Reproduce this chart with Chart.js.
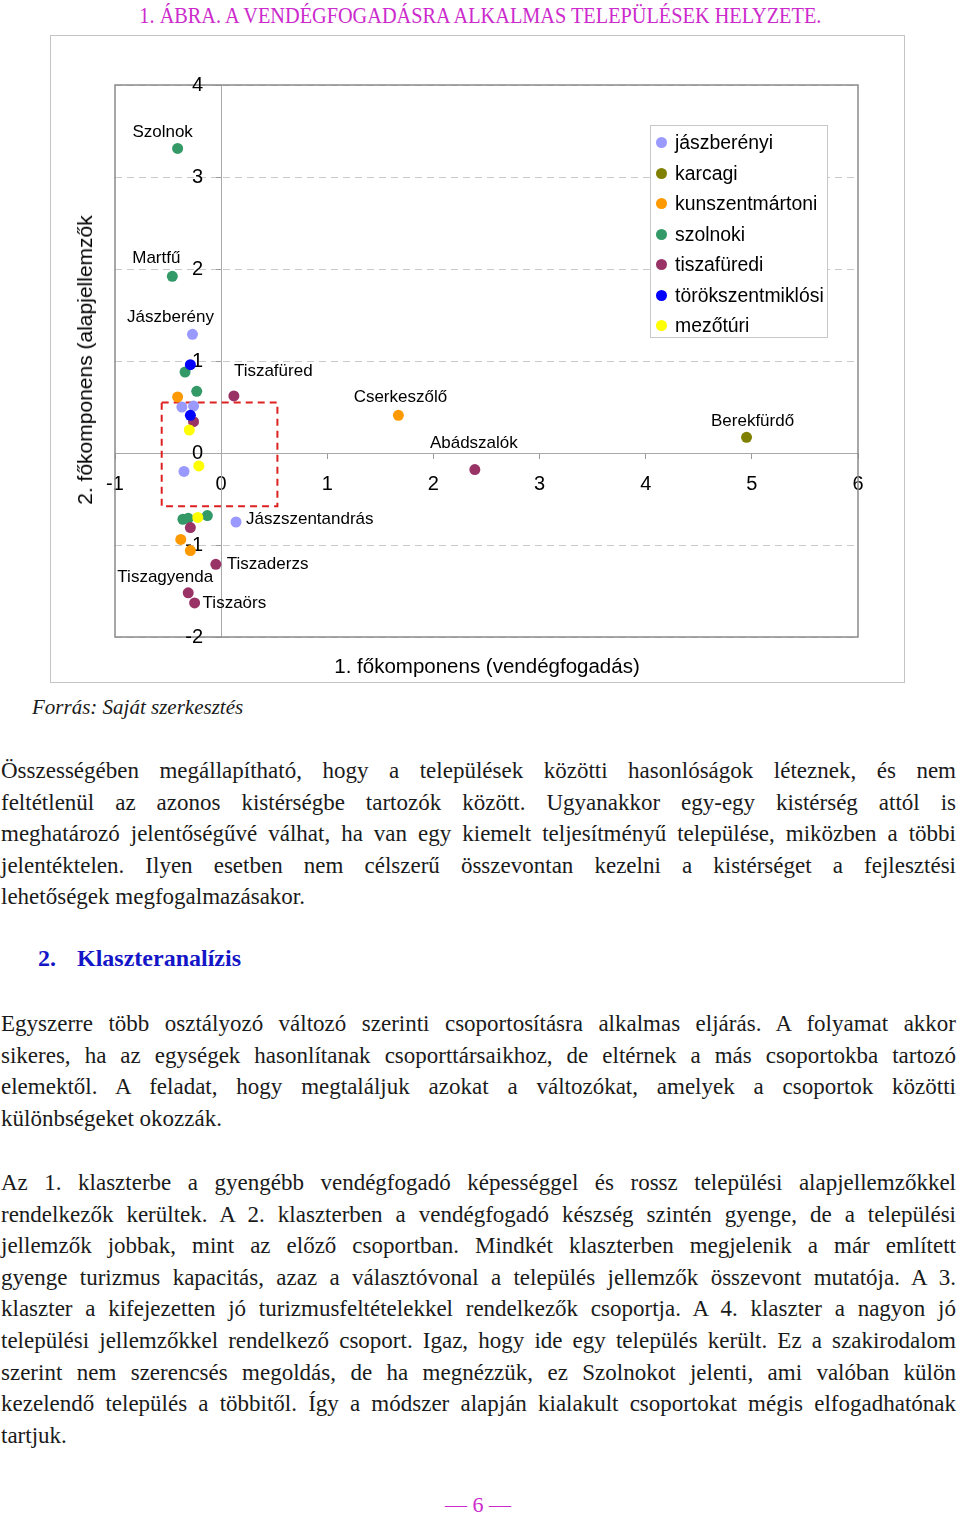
<!DOCTYPE html>
<html lang="hu">
<head>
<meta charset="utf-8">
<title>1. ábra</title>
<script src="https://cdn.jsdelivr.net/npm/chart.js@4"></script>
<style>
  html, body { margin: 0; padding: 0; background: #fff; }
  body { width: 960px; height: 1516px; position: relative; overflow: hidden; font-family: "Liberation Serif", "Times New Roman", serif; color: #1a1a1a; }
  .abs { position: absolute; }
  #title { top: 2px; left: 0; width: 960px; text-align: center; color: #cc2acc; font-size: 24px; white-space: nowrap; }
  #title span { display: inline-block; transform-origin: center; }
  #chartBox { left: 50px; top: 35px; width: 855px; height: 648px; border: 1px solid #c4c4c4; box-sizing: border-box; }
  #chartWrap { left: 51px; top: 36px; width: 853px; height: 646px; }
  .axTitle { font-family: "Liberation Sans", Arial, sans-serif; color: #000; white-space: nowrap; }
  #xTitle { left: 487px; top: 666px; font-size: 20.5px; transform: translate(-50%, -50%); }
  #yTitle { left: 85px; top: 360px; font-size: 21px; transform: translate(-50%, -50%) rotate(-90deg); }
  #legend { left: 650px; top: 125px; width: 178px; height: 213px; border: 1px solid #c8c8c8; box-sizing: border-box; background: #fff; padding-top: 1px;
            font-family: "Liberation Sans", Arial, sans-serif; font-size: 19.4px; color: #000; }
  #legend .it { height: 30.5px; line-height: 30.5px; position: relative; padding-left: 24px; white-space: nowrap; }
  #legend .dot { position: absolute; left: 5px; top: 10px; width: 11px; height: 11px; border-radius: 50%; }
  #source { left: 32px; top: 695px; font-style: italic; font-size: 21px; }
  .par { left: 1px; width: 955px; font-size: 23px; }
  .ln { height: 31.6px; line-height: 31.6px; white-space: nowrap; }
  #heading { top: 945px; left: 38px; font-size: 24px; font-weight: bold; color: #1515c8; white-space: nowrap; }
  #heading .num { position: absolute; left: 0; }
  #heading .txt { position: absolute; left: 39px; }
  #pageNo { left: 0; width: 956px; top: 1492px; text-align: center; color: #cc2acc; font-size: 22px; }
</style>
</head>
<body>
<div id="title" class="abs"><span>1. ÁBRA. A VENDÉGFOGADÁSRA ALKALMAS TELEPÜLÉSEK HELYZETE.</span></div>

<div id="chartBox" class="abs"></div>
<div id="chartWrap" class="abs"><canvas id="scatterChart"></canvas></div>
<div id="yTitle" class="abs axTitle">2. főkomponens (alapjellemzők</div>
<div id="xTitle" class="abs axTitle">1. főkomponens (vendégfogadás)</div>
<div id="legend" class="abs"></div>

<div id="source" class="abs">Forrás: Saját szerkesztés</div>

<div class="abs par" style="top:755px">
  <div class="ln"><span>Összességében megállapítható, hogy a települések közötti hasonlóságok léteznek, és nem</span></div>
  <div class="ln"><span>feltétlenül az azonos kistérségbe tartozók között. Ugyanakkor egy-egy kistérség attól is</span></div>
  <div class="ln"><span>meghatározó jelentőségűvé válhat, ha van egy kiemelt teljesítményű települése, miközben a többi</span></div>
  <div class="ln"><span>jelentéktelen. Ilyen esetben nem célszerű összevontan kezelni a kistérséget a fejlesztési</span></div>
  <div class="ln last"><span>lehetőségek megfogalmazásakor.</span></div>
</div>

<div id="heading" class="abs"><span class="num">2.</span><span class="txt">Klaszteranalízis</span></div>

<div class="abs par" style="top:1008px">
  <div class="ln"><span>Egyszerre több osztályozó változó szerinti csoportosításra alkalmas eljárás. A folyamat akkor</span></div>
  <div class="ln"><span>sikeres, ha az egységek hasonlítanak csoporttársaikhoz, de eltérnek a más csoportokba tartozó</span></div>
  <div class="ln"><span>elemektől. A feladat, hogy megtaláljuk azokat a változókat, amelyek a csoportok közötti</span></div>
  <div class="ln last"><span>különbségeket okozzák.</span></div>
</div>

<div class="abs par" style="top:1167px">
  <div class="ln"><span>Az 1. klaszterbe a gyengébb vendégfogadó képességgel és rossz települési alapjellemzőkkel</span></div>
  <div class="ln"><span>rendelkezők kerültek. A 2. klaszterben a vendégfogadó készség szintén gyenge, de a települési</span></div>
  <div class="ln"><span>jellemzők jobbak, mint az előző csoportban. Mindkét klaszterben megjelenik a már említett</span></div>
  <div class="ln"><span>gyenge turizmus kapacitás, azaz a választóvonal a település jellemzők összevont mutatója. A 3.</span></div>
  <div class="ln"><span>klaszter a kifejezetten jó turizmusfeltételekkel rendelkezők csoportja. A 4. klaszter a nagyon jó</span></div>
  <div class="ln"><span>települési jellemzőkkel rendelkező csoport. Igaz, hogy ide egy település került. Ez a szakirodalom</span></div>
  <div class="ln"><span>szerint nem szerencsés megoldás, de ha megnézzük, ez Szolnokot jelenti, ami valóban külön</span></div>
  <div class="ln"><span>kezelendő település a többitől. Így a módszer alapján kialakult csoportokat mégis elfogadhatónak</span></div>
  <div class="ln last"><span>tartjuk.</span></div>
</div>

<div id="pageNo" class="abs">— 6 —</div>

<script>
// series (kistérségek)
const seriesNames = ['jászberényi', 'karcagi', 'kunszentmártoni', 'szolnoki', 'tiszafüredi', 'törökszentmiklósi', 'mezőtúri'];
const seriesColors = ['#9999FF', '#808000', '#FF9900', '#339966', '#993366', '#0000FF', '#FFFF00'];

// 1. főkomponens (x) / 2. főkomponens (y)
const jaszberenyiX = [-0.27, -0.37, -0.26, -0.35, 0.14];
const jaszberenyiY = [1.29, 0.50, 0.51, -0.20, -0.75];
const jaszberenyiNames = ['Jászberény', '', '', '', 'Jászszentandrás'];

const karcagiX = [4.95];
const karcagiY = [0.17];
const karcagiNames = ['Berekfürdő'];

const kunszentmartoniX = [1.67, -0.41, -0.38, -0.29];
const kunszentmartoniY = [0.41, 0.61, -0.94, -1.06];
const kunszentmartoniNames = ['Cserkeszőlő', '', '', ''];

const szolnokiX = [-0.41, -0.46, -0.34, -0.23, -0.36, -0.31, -0.13];
const szolnokiY = [3.31, 1.92, 0.88, 0.67, -0.72, -0.71, -0.68];
const szolnokiNames = ['Szolnok', 'Martfű', '', '', '', '', ''];

const tiszafurediX = [0.12, 2.39, -0.26, -0.29, -0.05, -0.31, -0.25];
const tiszafurediY = [0.62, -0.18, 0.34, -0.81, -1.21, -1.52, -1.63];
const tiszafurediNames = ['Tiszafüred', 'Abádszalók', '', '', 'Tiszaderzs', 'Tiszagyenda', 'Tiszaörs'];

const torokszentmiklosiX = [-0.29, -0.29];
const torokszentmiklosiY = [0.96, 0.41];
const torokszentmiklosiNames = ['', ''];

const mezoturiX = [-0.30, -0.21, -0.22];
const mezoturiY = [0.25, -0.14, -0.70];
const mezoturiNames = ['', '', ''];

// highlighted region (red dashed box), data units
const boxX = [-0.56, 0.53];
const boxY = [-0.58, 0.55];

// axis ranges
const xMin = -1, xMax = 6;
const yMin = -2, yMax = 4;

const seriesX = [jaszberenyiX, karcagiX, kunszentmartoniX, szolnokiX, tiszafurediX, torokszentmiklosiX, mezoturiX];
const seriesY = [jaszberenyiY, karcagiY, kunszentmartoniY, szolnokiY, tiszafurediY, torokszentmiklosiY, mezoturiY];
const seriesLabels = [jaszberenyiNames, karcagiNames, kunszentmartoniNames, szolnokiNames, tiszafurediNames, torokszentmiklosiNames, mezoturiNames];

// where each town name sits next to its dot: [align, dx, dy]
const labelPlace = {
    'Szolnok': ['center', -15, -16],
    'Martfű': ['center', -16, -18],
    'Jászberény': ['center', -22, -17],
    'Tiszafüred': ['left', 0, -25],
    'Cserkeszőlő': ['center', 2, -18],
    'Abádszalók': ['center', -1, -26],
    'Berekfürdő': ['center', 6, -16],
    'Jászszentandrás': ['left', 10, -3],
    'Tiszaderzs': ['left', 11, 0],
    'Tiszagyenda': ['center', -23, -16],
    'Tiszaörs': ['left', 8, 0]
};

const sansFont = '"Liberation Sans", Arial, sans-serif';
Chart.defaults.font.family = sansFont;
Chart.defaults.color = '#000';

const datasets = seriesNames.map((name, i) => ({
    label: name,
    data: seriesX[i].map((x, j) => ({ x: x, y: seriesY[i][j] })),
    names: seriesLabels[i],
    backgroundColor: seriesColors[i],
    borderWidth: 0,
    pointRadius: 5.5,
    pointHoverRadius: 5.5,
    showLine: false,
    order: seriesNames.length - i  // later series on top
}));

datasets.push({
    label: 'box',
    data: [
        { x: boxX[0], y: boxY[1] }, { x: boxX[1], y: boxY[1] },
        { x: boxX[1], y: boxY[0] }, { x: boxX[0], y: boxY[0] },
        { x: boxX[0], y: boxY[1] }
    ],
    showLine: true,
    borderColor: '#dd2222',
    borderWidth: 2,
    borderDash: [7, 5],
    pointRadius: 0,
    fill: false,
    order: 99
});

// frame round the plot area + y tick labels left of the x=0 axis
const plotFrame = {
    id: 'plotFrame',
    beforeDatasetsDraw(chart) {
        const { ctx, chartArea: a, scales } = chart;
        ctx.save();
        ctx.strokeStyle = '#8a8a8a';
        ctx.lineWidth = 1.5;
        ctx.strokeRect(a.left, a.top, a.width, a.height);

        const ys = scales.y;
        const axisX = scales.x.getPixelForValue(0);
        ctx.font = '20px ' + sansFont;
        ctx.fillStyle = '#000';
        ctx.textAlign = 'right';
        ctx.textBaseline = 'middle';
        ys.ticks.forEach(t => {
            ctx.fillText(String(t.value), axisX - 18, ys.getPixelForValue(t.value));
        });
        ctx.restore();
    }
};

const pointLabels = {
    id: 'pointLabels',
    afterDatasetsDraw(chart) {
        const ctx = chart.ctx;
        ctx.save();
        ctx.font = '17px ' + sansFont;
        ctx.fillStyle = '#000';
        ctx.textBaseline = 'middle';
        chart.data.datasets.forEach((ds, i) => {
            if (!ds.names) return;
            chart.getDatasetMeta(i).data.forEach((pt, j) => {
                const name = ds.names[j];
                if (!name) return;
                const [align, dx, dy] = labelPlace[name];
                ctx.textAlign = align;
                ctx.fillText(name, pt.x + dx, pt.y + dy);
            });
        });
        ctx.restore();
    }
};

const ctx = document.getElementById('scatterChart').getContext('2d');
let scatterChart = new Chart(ctx, {
    type: 'scatter',
    data: { datasets: datasets },
    options: {
        responsive: true,
        maintainAspectRatio: false,
        animation: false,
        events: [],
        layout: { padding: { left: 64, top: 49, right: 46, bottom: 45 } },
        plugins: {
            legend: { display: false },
            tooltip: { enabled: false }
        },
        scales: {
            x: {
                type: 'linear',
                min: xMin,
                max: xMax,
                position: { y: 0 },
                ticks: { stepSize: 1, autoSkip: false, maxRotation: 0, padding: 14, font: { size: 20 }, color: '#000' },
                grid: { drawOnChartArea: false, drawTicks: true, tickLength: 5, tickColor: '#9a9a9a' },
                border: { color: '#a8a8a8', width: 1 }
            },
            y: {
                type: 'linear',
                min: yMin,
                max: yMax,
                position: { x: 0 },
                ticks: { stepSize: 1, display: false },
                grid: { color: '#cacaca', lineWidth: 1, tickLength: 5, tickColor: '#9a9a9a' },
                border: { color: '#a8a8a8', width: 1, dash: [7, 5] }
            }
        }
    },
    plugins: [plotFrame, pointLabels]
});

// HTML legend from the same series arrays
const legendEl = document.getElementById('legend');
seriesNames.forEach((name, i) => {
    const it = document.createElement('div');
    it.className = 'it';
    const dot = document.createElement('span');
    dot.className = 'dot';
    dot.style.background = seriesColors[i];
    it.appendChild(dot);
    it.appendChild(document.createTextNode(name));
    legendEl.appendChild(it);
});

// justify each body line to the page width
document.querySelectorAll('.ln').forEach(el => {
    const span = el.firstElementChild;
    if (el.classList.contains('last')) return;
    const w = span.getBoundingClientRect().width;
    const spaces = (span.textContent.match(/ /g) || []).length;
    if (spaces) span.style.wordSpacing = ((955 - w) / spaces) + 'px';
});

// squeeze the caption into its width
const t = document.querySelector('#title span');
const tw = t.getBoundingClientRect().width;
t.style.transform = 'scaleX(' + (682 / tw) + ')';
</script>
</body>
</html>
